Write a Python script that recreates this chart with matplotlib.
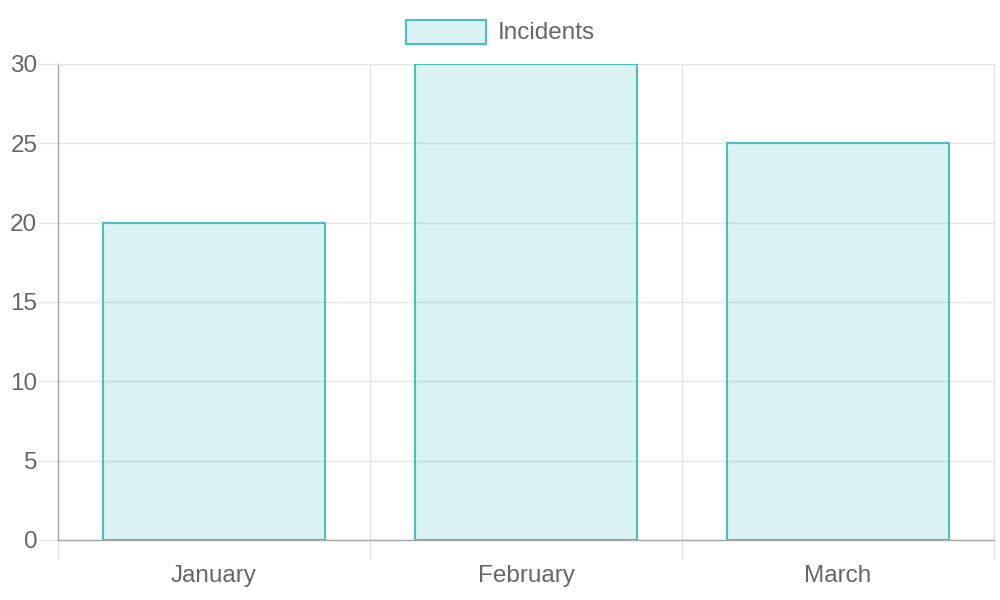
import matplotlib
matplotlib.use("Agg")
import matplotlib.pyplot as plt
from matplotlib.patches import Rectangle

months = ["January", "February", "March"]
incidents = [20, 30, 25]
series_label = "Incidents"

plt.rcParams['font.family'] = ['Liberation Sans', 'DejaVu Sans']
text_col = "#666666"
grid_col = "#e5e5e5"
axis_col = "#a8a8a8"
edge = (75/255, 192/255, 192/255)
fill = (75/255, 192/255, 192/255, 0.2)

fig = plt.figure(figsize=(10, 6), dpi=100)
ax = fig.add_axes([0.058, 0.1, 0.936, 476/600])

x = list(range(len(months)))
ax.bar(x, incidents, width=0.712, color=fill, edgecolor=edge, linewidth=1.5, zorder=3)

ax.set_xlim(-0.5, len(months) - 0.5)
ax.set_ylim(0, 30)

# category boundaries as major ticks (grid + tick marks), labels on minor ticks
ax.set_xticks([i - 0.5 for i in range(len(months) + 1)])
ax.set_xticklabels([])
ax.set_xticks(x, minor=True)
ax.set_xticklabels(months, minor=True, fontsize=17.5, color=text_col)
ax.tick_params(axis='x', which='major', length=14.4, width=1, color=grid_col)
ax.tick_params(axis='x', which='minor', length=0, pad=18)

ax.set_yticks(range(0, 31, 5))
ax.tick_params(axis='y', length=14.4, width=1, color=grid_col, pad=0.5,
               labelsize=17.5, labelcolor=text_col)

ax.grid(True, which='major', color=grid_col, linewidth=1, zorder=0)
for s in ['top', 'right']:
    ax.spines[s].set_color(grid_col)
for s in ['left', 'bottom']:
    ax.spines[s].set_color(axis_col)
    ax.spines[s].set_linewidth(1)

# legend drawn like the chart.js legend box
fig.patches.append(Rectangle((0.406, 1 - 44/600), 0.08, 24/600, transform=fig.transFigure,
                             facecolor=fill, edgecolor=edge, linewidth=1.5))
fig.text(0.498, 1 - 33/600, series_label, fontsize=17.5, color=text_col, va='center', ha='left')

fig.savefig("out.png", dpi=100)
